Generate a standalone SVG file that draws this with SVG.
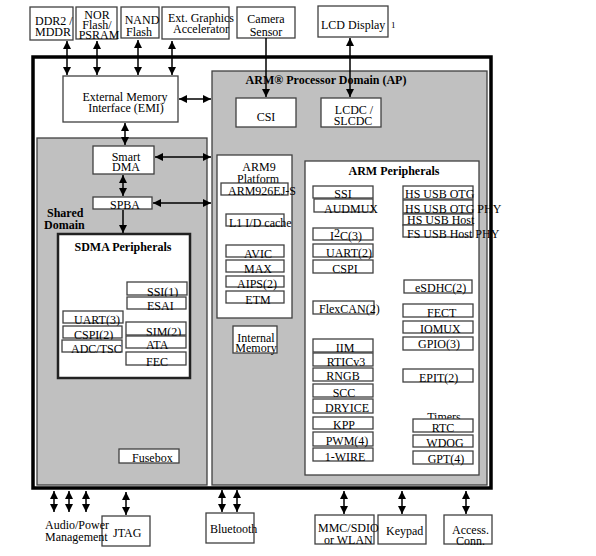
<svg xmlns="http://www.w3.org/2000/svg" width="596" height="556" viewBox="0 0 596 556">
<defs>
<marker id="ah" viewBox="0 0 8 8" refX="8" refY="4" markerWidth="8" markerHeight="8" markerUnits="userSpaceOnUse" orient="auto-start-reverse"><path d="M0,0 L8,4 L0,8 z" fill="#000"/></marker>
<style>
text{font-family:"Liberation Serif","Times New Roman",serif;font-size:12px;fill:#000}
.m{text-anchor:middle}
.b{font-weight:bold}
.bx{fill:#fff;stroke:#404040;stroke-width:1.3}
.dom{fill:#c0c0c0;stroke:#404040;stroke-width:1.3}
.c line{stroke:#000;stroke-width:1.5}
.two{marker-start:url(#ah);marker-end:url(#ah)}
.one{marker-end:url(#ah)}
</style>
</defs>
<rect x="0" y="0" width="596" height="556" fill="#fff"/>

<g id="outer"><rect x="33" y="57" width="458" height="431" fill="#fff" stroke="#000" stroke-width="3.5"/></g>
<g id="shared-domain"><rect class="dom" x="37" y="138" width="170" height="347"/>
<text class="b" x="47" y="217">Shared</text><text class="b" x="44" y="229">Domain</text></g>
<g id="ap-domain"><rect class="dom" x="212" y="71" width="275" height="414"/>
<text class="b m" x="326" y="84">ARM® Processor Domain (AP)</text></g>

<!-- top external boxes -->
<g id="ddr2"><rect class="bx" x="30" y="7" width="43" height="33"/><text x="35" y="25">DDR2 /</text><text x="35" y="36">MDDR</text></g>
<g id="nor"><rect class="bx" x="76" y="7" width="41" height="32"/><text class="m" x="97" y="19">NOR</text><text class="m" x="97" y="29">Flash/</text><text class="m" x="99" y="39">PSRAM</text></g>
<g id="nand"><rect class="bx" x="121" y="7" width="38" height="31"/><text class="m" x="142" y="24">NAND</text><text class="m" x="139" y="36">Flash</text></g>
<g id="ext-graphics"><rect class="bx" x="162" y="7" width="67" height="32"/><text class="m" x="201" y="22">Ext. Graphics</text><text class="m" x="201" y="33">Accelerator</text></g>
<g id="camera"><rect class="bx" x="237" y="7" width="58" height="31"/><text class="m" x="266" y="23">Camera</text><text class="m" x="266" y="36">Sensor</text></g>
<g id="lcd-display"><rect class="bx" x="318" y="6" width="70" height="31"/><text x="321" y="29">LCD Display<tspan x="391" y="28" font-size="9">1</tspan></text></g>

<g id="emi"><rect class="bx" x="63" y="76" width="115" height="46"/><text class="m" x="125" y="101">External Memory</text><text class="m" x="126" y="112">Interface (EMI)</text></g>
<g id="smart-dma"><rect class="bx" x="93" y="146" width="61" height="28"/><text class="m" x="126" y="161">Smart</text><text class="m" x="126" y="171">DMA</text></g>
<g id="spba"><rect class="bx" x="93" y="197" width="59" height="12"/><text class="m" x="125" y="209">SPBA</text></g>

<g id="sdma-peripherals"><rect x="58" y="234" width="132" height="144" fill="#fff" stroke="#222" stroke-width="2.5"/>
<text class="b m" x="123" y="251">SDMA Peripherals</text></g>
<g id="ssi1"><rect class="bx" x="127" y="282" width="60" height="13"/><text x="147" y="296">SSI(1)</text></g>
<g id="esai"><rect class="bx" x="127" y="297" width="59" height="12"/><text x="147" y="310">ESAI</text></g>
<g id="uart3"><rect class="bx" x="63" y="311" width="60" height="12"/><text x="74" y="324">UART(3)</text></g>
<g id="cspi2"><rect class="bx" x="63" y="326" width="59" height="12"/><text x="74" y="339">CSPI(2)</text></g>
<g id="adc-tsc"><rect class="bx" x="62" y="340" width="60" height="12"/><text x="71" y="353">ADC/TSC</text></g>
<g id="sim2"><rect class="bx" x="126" y="322" width="60" height="13"/><text x="146" y="336">SIM(2)</text></g>
<g id="ata"><rect class="bx" x="126" y="336" width="60" height="12"/><text x="146" y="349">ATA</text></g>
<g id="fec-sdma"><rect class="bx" x="126" y="352" width="60" height="13"/><text x="146" y="366">FEC</text></g>
<g id="fusebox"><rect class="bx" x="119" y="449" width="60" height="14"/><text x="132" y="462">Fusebox</text></g>

<g id="csi"><rect class="bx" x="236" y="98" width="60" height="29"/><text class="m" x="266" y="121">CSI</text></g>
<g id="lcdc"><rect class="bx" x="321" y="98" width="60" height="29"/><text class="m" x="354" y="114">LCDC /</text><text class="m" x="353" y="125">SLCDC</text></g>

<g id="arm9-platform"><rect class="bx" x="217" y="155" width="75" height="163"/><text class="m" x="259" y="171">ARM9</text><text class="m" x="258" y="183">Platform</text></g>
<g id="arm926"><rect class="bx" x="221" y="183" width="67" height="12"/><text x="228" y="195">ARM926EJ-S</text></g>
<g id="l1-cache"><rect class="bx" x="226" y="214" width="58" height="12"/><text x="229" y="227">L1 I/D cache</text></g>
<g id="avic"><rect class="bx" x="226" y="245" width="58" height="12"/><text class="m" x="258" y="258">AVIC</text></g>
<g id="max"><rect class="bx" x="226" y="260" width="58" height="12"/><text class="m" x="258" y="273">MAX</text></g>
<g id="aips2"><rect class="bx" x="226" y="276" width="58" height="11"/><text class="m" x="257" y="288">AIPS(2)</text></g>
<g id="etm"><rect class="bx" x="226" y="291" width="58" height="12"/><text class="m" x="258" y="304">ETM</text></g>
<g id="internal-memory"><rect class="bx" x="233" y="326" width="44" height="27"/><text class="m" x="256" y="342">Internal</text><text class="m" x="256" y="352">Memory</text></g>

<g id="arm-peripherals"><rect class="bx" x="305" y="161" width="174" height="314"/><text class="b m" x="394" y="175">ARM Peripherals</text></g>
<g id="ssi"><rect class="bx" x="313" y="186" width="60" height="12"/><text class="m" x="343" y="198">SSI</text></g>
<g id="audmux"><rect class="bx" x="314" y="199" width="59" height="13"/><text class="m" x="351" y="213">AUDMUX</text></g>
<g id="i2c3"><rect class="bx" x="313" y="228" width="60" height="12"/><text x="330" y="240">I<tspan dy="-3">2</tspan><tspan dy="3">C(3)</tspan></text></g>
<g id="uart2"><rect class="bx" x="313" y="244" width="60" height="13"/><text class="m" x="349" y="257">UART(2)</text></g>
<g id="cspi"><rect class="bx" x="313" y="260" width="60" height="13"/><text class="m" x="345" y="273">CSPI</text></g>
<g id="flexcan2"><rect class="bx" x="313" y="301" width="61" height="13"/><text x="319" y="313">FlexCAN(2)</text></g>
<g id="iim"><rect class="bx" x="313" y="339" width="60" height="13"/><text class="m" x="345" y="352">IIM</text></g>
<g id="rticv3"><rect class="bx" x="313" y="353" width="60" height="13"/><text class="m" x="346" y="366">RTICv3</text></g>
<g id="rngb"><rect class="bx" x="313" y="368" width="60" height="13"/><text class="m" x="343" y="380">RNGB</text></g>
<g id="scc"><rect class="bx" x="313" y="384" width="60" height="13"/><text class="m" x="344" y="397">SCC</text></g>
<g id="dryice"><rect class="bx" x="313" y="399" width="60" height="14"/><text class="m" x="347" y="412">DRYICE</text></g>
<g id="kpp"><rect class="bx" x="313" y="417" width="60" height="12"/><text class="m" x="344" y="429">KPP</text></g>
<g id="pwm4"><rect class="bx" x="313" y="432" width="60" height="14"/><text class="m" x="347" y="445">PWM(4)</text></g>
<g id="one-wire"><rect class="bx" x="313" y="448" width="60" height="13"/><text class="m" x="345" y="461">1-WIRE</text></g>

<g id="hs-usb-otg"><rect class="bx" x="403" y="186" width="70" height="13"/><text x="405" y="198">HS USB OTG</text></g>
<g id="hs-usb-otg-phy"><rect class="bx" x="403" y="200" width="70" height="13"/><text x="405" y="213">HS USB OTG PHY</text></g>
<g id="hs-usb-host"><rect class="bx" x="403" y="214" width="70" height="11"/><text x="407" y="224">HS USB Host</text></g>
<g id="fs-usb-host-phy"><rect class="bx" x="403" y="225" width="70" height="12"/><text x="407" y="238">FS USB Host PHY</text></g>
<g id="esdhc2"><rect class="bx" x="404" y="280" width="68" height="13"/><text x="415" y="292">eSDHC(2)</text></g>
<g id="fect"><rect class="bx" x="403" y="304" width="70" height="13"/><text x="427" y="317">FECT</text></g>
<g id="iomux"><rect class="bx" x="403" y="321" width="70" height="12"/><text x="420" y="333">IOMUX</text></g>
<g id="gpio3"><rect class="bx" x="403" y="337" width="70" height="13"/><text x="418" y="348">GPIO(3)</text></g>
<g id="epit2"><rect class="bx" x="403" y="369" width="70" height="13"/><text x="419" y="382">EPIT(2)</text></g>
<g id="timers"><text class="m" x="444" y="421">Timers</text></g>
<g id="rtc"><rect class="bx" x="413" y="419" width="60" height="13"/><text class="m" x="443" y="432">RTC</text></g>
<g id="wdog"><rect class="bx" x="413" y="435" width="60" height="12"/><text class="m" x="445" y="447">WDOG</text></g>
<g id="gpt4"><rect class="bx" x="413" y="451" width="60" height="13"/><text class="m" x="446" y="463">GPT(4)</text></g>

<!-- bottom -->
<g id="jtag"><rect class="bx" x="102" y="516" width="48" height="30"/><text x="113" y="537">JTAG</text></g>
<g id="audio-power"><text x="45" y="529">Audio/Power</text><text x="45" y="541">Management</text></g>
<g id="bluetooth"><rect class="bx" x="206" y="513" width="48" height="30"/><text x="210" y="533">Bluetooth</text></g>
<g id="keypad"><rect class="bx" x="378" y="515" width="48" height="29"/><text x="386" y="535">Keypad</text></g>
<g id="mmc"><rect class="bx" x="315" y="515" width="59" height="29"/><text x="318" y="532">MMC/SDIO</text><text x="324" y="544">or WLAN</text></g>
<g id="access"><rect class="bx" x="444" y="515" width="48" height="29"/><text x="452" y="534">Access.</text><text x="456" y="545">Conn.</text></g>

<g id="connectors" class="c">
<line class="two" x1="67" y1="41" x2="67" y2="75"/>
<line class="two" x1="97" y1="41" x2="97" y2="75"/>
<line class="two" x1="138" y1="40" x2="138" y2="75"/>
<line class="two" x1="172" y1="41" x2="172" y2="75"/>
<line class="one" x1="266" y1="38" x2="266" y2="97"/>
<line class="two" x1="350" y1="38" x2="350" y2="97"/>
<line class="two" x1="179" y1="99" x2="211" y2="99"/>
<line class="two" x1="125" y1="123" x2="125" y2="145"/>
<line class="two" x1="155" y1="157" x2="211" y2="157"/>
<line class="two" x1="123" y1="175" x2="123" y2="196"/>
<line class="two" x1="153" y1="203" x2="211" y2="203"/>
<line class="one" x1="123" y1="210" x2="123" y2="233"/>
<line class="two" x1="54" y1="491" x2="54" y2="512"/>
<line class="two" x1="69" y1="491" x2="69" y2="512"/>
<line class="two" x1="86" y1="491" x2="86" y2="512"/>
<line class="two" x1="126" y1="492" x2="126" y2="515"/>
<line class="two" x1="222" y1="490" x2="222" y2="512"/>
<line class="two" x1="237" y1="490" x2="237" y2="512"/>
<line class="two" x1="344" y1="491" x2="344" y2="514"/>
<line class="two" x1="402" y1="491" x2="402" y2="514"/>
<line class="two" x1="466" y1="491" x2="466" y2="514"/>
</g>
</svg>
